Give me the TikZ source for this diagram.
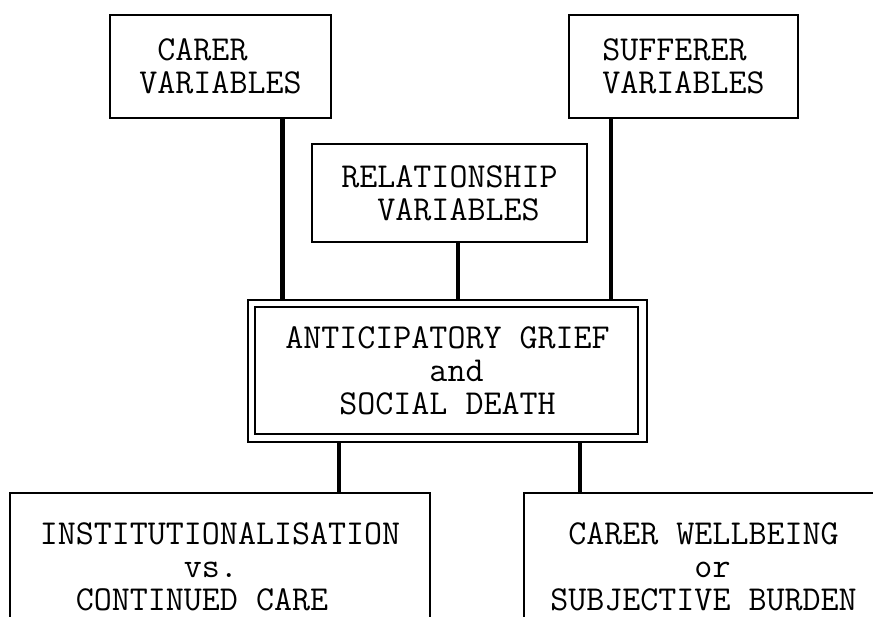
\documentclass[tikz,border=0pt]{standalone}
\newcommand\chskip[1]{\hspace*{#1\fontcharwd\font`\M}}
\begin{document}
\begin{tikzpicture}[
    x=1pt, y=-1pt,
    every node/.style={font=\ttfamily\fontsize{35}{33}\selectfont, align=left, inner sep=0pt},
    varbox/.style={draw, line width=2.2pt},
    link/.style={line width=4.5pt}
    ]
    \useasboundingbox (0,0) rectangle (873,617);
    \clip (0,0) rectangle (873,617);
    % the three groups of variables
    \node[varbox, minimum width=221pt, minimum height=103pt] (carer) at (220.5,66.5) {\chskip{1}CARER\\VARIABLES};
    \node[varbox, minimum width=229pt, minimum height=103pt] (sufferer) at (683.5,66.5) {SUFFERER\\VARIABLES};
    \node[varbox, minimum width=275pt, minimum height=98pt] (relation) at (449.5,193) {RELATIONSHIP\\\chskip{2}VARIABLES};
    % central box, double frame
    \node[varbox, minimum width=399pt, minimum height=142pt] (central) at (447.5,371)
      {ANTICIPATORY GRIEF\\\chskip{8}and\\\chskip{3}SOCIAL DEATH};
    \draw[line width=2pt] ([shift={(8pt,-8pt)}]central.north west) rectangle ([shift={(-10pt,9pt)}]central.south east);
    % outcomes (run off the page)
    \node[varbox, minimum width=420pt, minimum height=147pt] (inst) at (220,566.5)
      {INSTITUTIONALISATION\\\chskip{8}vs.\\\chskip{2}CONTINUED CARE};
    \node[varbox, minimum width=359pt, minimum height=147pt] (wellb) at (703.5,566.5)
      {\chskip{1}CARER WELLBEING\\\chskip{8}or\\SUBJECTIVE BURDEN};
    % connectors
    \draw[link] ([xshift=62pt]carer.south) -- ([xshift=62pt]carer.south |- central.north);
    \draw[link] ([xshift=-72.5pt]sufferer.south) -- ([xshift=-72.5pt]sufferer.south |- central.north);
    \draw[link] ([xshift=8.5pt]relation.south) -- ([xshift=8.5pt]relation.south |- central.north);
    \draw[link] ([xshift=-108.5pt]central.south) -- ([xshift=-108.5pt]central.south |- inst.north);
    \draw[link] ([xshift=132.5pt]central.south) -- ([xshift=132.5pt]central.south |- wellb.north);
\end{tikzpicture}
\end{document}
